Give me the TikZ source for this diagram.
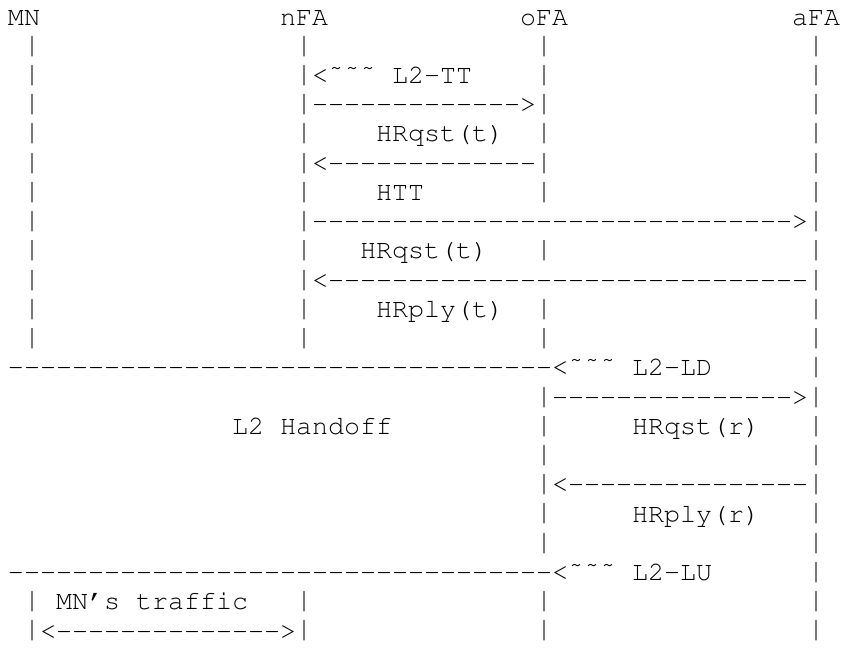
\documentclass[tikz,border=0pt]{standalone}
\usepackage[T1]{fontenc}
\usepackage{graphicx}
\usetikzlibrary{positioning}
\newcommand{\hy}[1]{\foreach \k in {1,...,#1}{-}}
\newcommand{\tld}{\~{}\~{}\~{}}
\newcommand{\tallbar}{\raisebox{-6pt}{\resizebox*{\width}{28pt}{\raisebox{\depth}{|}}}}
\newcommand{\cour}{\fontencoding{T1}\fontfamily{pcr}\fontsize{26.67pt}{29.24pt}\selectfont}
\tikzset{
  asc/.style={font=\cour, text=black, anchor=base west, inner sep=0pt, outer sep=0pt},
  lifebar/.style={asc}
}

\begin{document}
\begin{tikzpicture}[x=16pt, y=-29.24pt]
\useasboundingbox (0pt,0pt) rectangle (843pt,-648pt);
\begin{scope}[shift={(8pt,-25pt)}]

% entities
\node[asc] (mn)  at (0,0)  {MN};
\node[asc] (nfa) at (17,0) {nFA};
\node[asc] (ofa) at (32,0) {oFA};
\node[asc] (afa) at (49,0) {aFA};

% lifelines
\foreach \r in {1,2,...,11,20,21} \node[lifebar] (mnbar\r) at (1,\r) {\tallbar};
\foreach \r in {1,2,...,11,20,21} \node[lifebar] (nfabar\r) at (18,\r) {\tallbar};
\foreach \r in {1,2,3,4,5,6,8,10,11,13,14,15,16,17,18,20,21}
  \node[lifebar] (ofabar\r) at (33,\r) {\tallbar};
\foreach \r in {1,2,...,21} \node[lifebar] (afabar\r) at (50,\r) {\tallbar};

% predictive part
\node[asc] (lttrig) at (19,2)  {<\tld{} L2-TT};
\node[asc] (msga)   at (19,3)  {\hy{13}>};
\node[asc] (hrqta)  at (23,4)  {HRqst(t)};
\node[asc] (msgb)   at (19,5)  {<\hy{13}};
\node[asc] (htt)    at (23,6)  {HTT};
\node[asc] (msgc)   at (19,7)  {\hy{30}>};
\node[asc] (hrqtb)  at (22,8)  {HRqst(t)};
\node[asc] (msgd)   at (19,9)  {<\hy{30}};
\node[asc] (hrpt)   at (23,10) {HRply(t)};

% link down / handoff
\node[asc] (ldown)  at (0,12)  {\hy{34}<\tld{} L2-LD};
\node[asc] (msge)   at (34,13) {\hy{15}>};
\node[asc] (hoff)   at (14,14) {L2 Handoff};
\node[asc] (hrqr)   at (39,14) {HRqst(r)};
\node[asc] (msgf)   at (34,16) {<\hy{15}};
\node[asc] (hrpr)   at (39,17) {HRply(r)};
\node[asc] (lup)    at (0,19)  {\hy{34}<\tld{} L2-LU};

% traffic
\node[asc] (traf)   at (3,20)  {MN's traffic};
\node[asc] (msgg)   at (2,21)  {<\hy{14}>};

\end{scope}
\end{tikzpicture}
\end{document}
